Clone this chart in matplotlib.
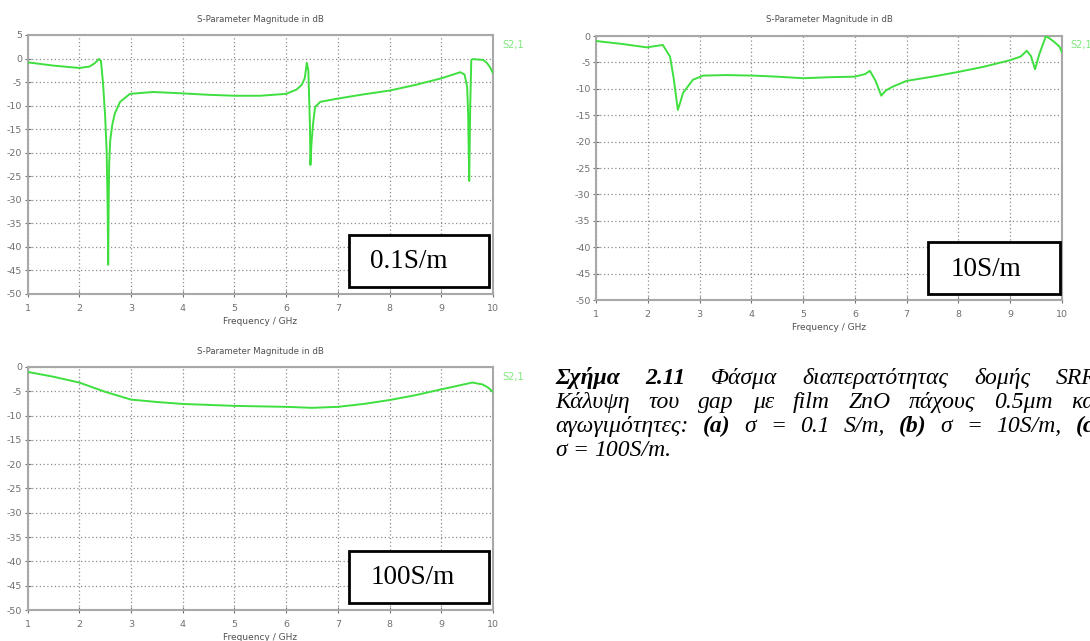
import matplotlib
matplotlib.use("Agg")
import matplotlib.pyplot as plt
from matplotlib.patches import Rectangle

plt.rcParams["axes.unicode_minus"] = False

# S21 magnitude (dB)
freq_a = [1.0, 1.5, 2.0, 2.2, 2.3, 2.38, 2.42, 2.46, 2.50, 2.53, 2.55, 2.56, 2.57, 2.58,
          2.60, 2.64, 2.69, 2.79, 2.98, 3.43, 4.0, 4.5, 5.0, 5.5, 6.0, 6.2, 6.3, 6.36,
          6.40, 6.43, 6.46, 6.47, 6.49, 6.52, 6.56, 6.66, 7.0, 7.5, 8.0, 8.5, 9.0, 9.37,
          9.45, 9.50, 9.52, 9.54, 9.56, 9.58, 9.62, 9.70, 9.81, 9.88, 9.94, 10.0]
db_a = [-0.8, -1.5, -2.0, -1.7, -1.0, -0.1, -0.5, -5.2, -12.0, -19.5, -32.0, -43.8, -30.0, -22.0,
        -17.3, -14.0, -11.6, -9.2, -7.5, -7.1, -7.4, -7.7, -7.9, -7.9, -7.5, -6.6, -5.6, -4.2,
        -0.9, -2.5, -14.0, -22.6, -18.0, -14.0, -10.3, -9.2, -8.5, -7.6, -6.8, -5.6, -4.2, -2.9,
        -3.4, -6.0, -12.0, -26.0, -10.0, -0.3, -0.1, -0.2, -0.3, -0.9, -1.8, -3.1]

freq_b = [1.0, 1.5, 1.98, 2.29, 2.43, 2.50, 2.58, 2.63, 2.68, 2.87, 3.07, 3.5, 4.03, 4.5,
          5.0, 5.52, 6.0, 6.2, 6.29, 6.40, 6.51, 6.60, 6.73, 7.0, 7.5, 8.0, 8.5, 8.99,
          9.2, 9.32, 9.40, 9.48, 9.56, 9.69, 9.78, 9.86, 9.95, 10.0]
db_b = [-0.95, -1.5, -2.15, -1.7, -3.9, -8.0, -14.0, -12.5, -10.8, -8.3, -7.5, -7.4, -7.5, -7.7,
        -8.0, -7.8, -7.7, -7.2, -6.6, -8.5, -11.3, -10.3, -9.6, -8.5, -7.7, -6.8, -5.8, -4.6,
        -3.9, -2.8, -3.8, -6.3, -3.5, 0.0, -0.6, -1.2, -2.0, -3.1]

freq_c = [1.0, 1.5, 2.0, 2.5, 3.0, 3.5, 4.0, 4.5, 5.0, 5.5, 6.0, 6.5, 7.0, 7.5, 8.0, 8.5,
          9.0, 9.3, 9.6, 9.8, 9.9, 10.0]
db_c = [-1.0, -2.0, -3.2, -5.1, -6.7, -7.2, -7.6, -7.8, -8.0, -8.1, -8.2, -8.4, -8.2, -7.6,
        -6.8, -5.8, -4.6, -3.9, -3.2, -3.6, -4.2, -5.1]

labels = ["0.1S/m", "10S/m", "100S/m"]

W, H = 1090, 641
fig = plt.figure(figsize=(W / 100, H / 100), dpi=100)
fig.patch.set_facecolor("white")


def px_axes(left, top, right, bottom):
    return fig.add_axes([left / W, 1 - bottom / H, (right - left) / W, (bottom - top) / H])


green = "#3fdf3f"
gray = "#707070"

panels = [
    (px_axes(27.5, 35, 493, 294), freq_a, db_a, (-50, 5), labels[0],
     (0.691, 0.027, 0.300, 0.201), (0.735, 0.124), (502, 45), 19),
    (px_axes(596, 36, 1062, 300), freq_b, db_b, (-50, 0), labels[1],
     (0.712, 0.023, 0.284, 0.197), (0.761, 0.114), (1070, 45), 19),
    (px_axes(27.5, 367, 493, 610), freq_c, db_c, (-50, 0), labels[2],
     (0.691, 0.029, 0.300, 0.214), (0.738, 0.132), (502, 377), 352),
]

for ax, f, d, ylim, lab, box, tpos, s21, ty in panels:
    ax.plot(f, d, color=green, lw=1.4, zorder=3)
    ax.set_xlim(1, 10)
    ax.set_ylim(*ylim)
    ax.set_xticks(range(1, 11))
    ax.set_yticks(range(ylim[0], ylim[1] + 1, 5))
    ax.grid(True, color="#8c8c8c", lw=0.9, linestyle=(0, (1, 2)))
    ax.tick_params(labelsize=6.8, colors=gray, direction="inout", length=4, width=0.8)
    ax.tick_params(axis="x", pad=5)
    ax.tick_params(axis="y", pad=2)
    for sp in ax.spines.values():
        sp.set_color("#a8a8a8")
        sp.set_linewidth(1.5)
    ax.set_xlabel("Frequency / GHz", fontsize=6.5, color="#505050", labelpad=3)
    # title of the CST plot
    x0, _, x1, _ = ax.get_position().extents
    fig.text((x0 + x1) / 2, 1 - ty / H, "S-Parameter Magnitude in dB", fontsize=6.2,
             color="#505050", ha="center", va="center")
    fig.text(s21[0] / W, 1 - s21[1] / H, "S2,1", fontsize=7, color="#7de87d",
             ha="left", va="center")
    ax.add_patch(Rectangle((box[0], box[1]), box[2], box[3], transform=ax.transAxes,
                           facecolor="white", edgecolor="black", lw=2, zorder=5))
    ax.text(tpos[0], tpos[1], lab, transform=ax.transAxes, fontsize=19.5,
            family="Liberation Serif", va="center", ha="left", zorder=6)

# caption (justified lines, bold-italic parts)
caption = [
    [("Σχήμα", True), ("2.11", True), ("Φάσμα", False), ("διαπερατότητας", False),
     ("δομής", False), ("SRR.", False)],
    [("Κάλυψη", False), ("του", False), ("gap", False), ("με", False), ("film", False),
     ("ZnO", False), ("πάχους", False), ("0.5μm", False), ("και", False)],
    [("αγωγιμότητες:", False), ("(a)", True), ("σ", False), ("=", False), ("0.1", False),
     ("S/m,", False), ("(b)", True), ("σ", False), ("=", False), ("10S/m,", False),
     ("(c)", True)],
    [("σ", False), ("=", False), ("100S/m.", False)],
]
cap_left, cap_right = 555, 1102
baselines = [384, 408, 432, 456]
renderer = fig.canvas.get_renderer()
for i, words in enumerate(caption):
    arts = []
    for w, b in words:
        t = fig.text(0, 1 - baselines[i] / H, w, fontsize=17, family="Liberation Serif",
                     style="italic", weight="bold" if b else "normal", va="baseline")
        arts.append(t)
    widths = [a.get_window_extent(renderer).width for a in arts]
    if i < len(caption) - 1:
        gap = (cap_right - cap_left - sum(widths)) / (len(arts) - 1)
    else:
        gap = 6
    x = cap_left
    for a, wd in zip(arts, widths):
        a.set_x(x / W)
        x += wd + gap

fig.savefig("out.png", dpi=100)
